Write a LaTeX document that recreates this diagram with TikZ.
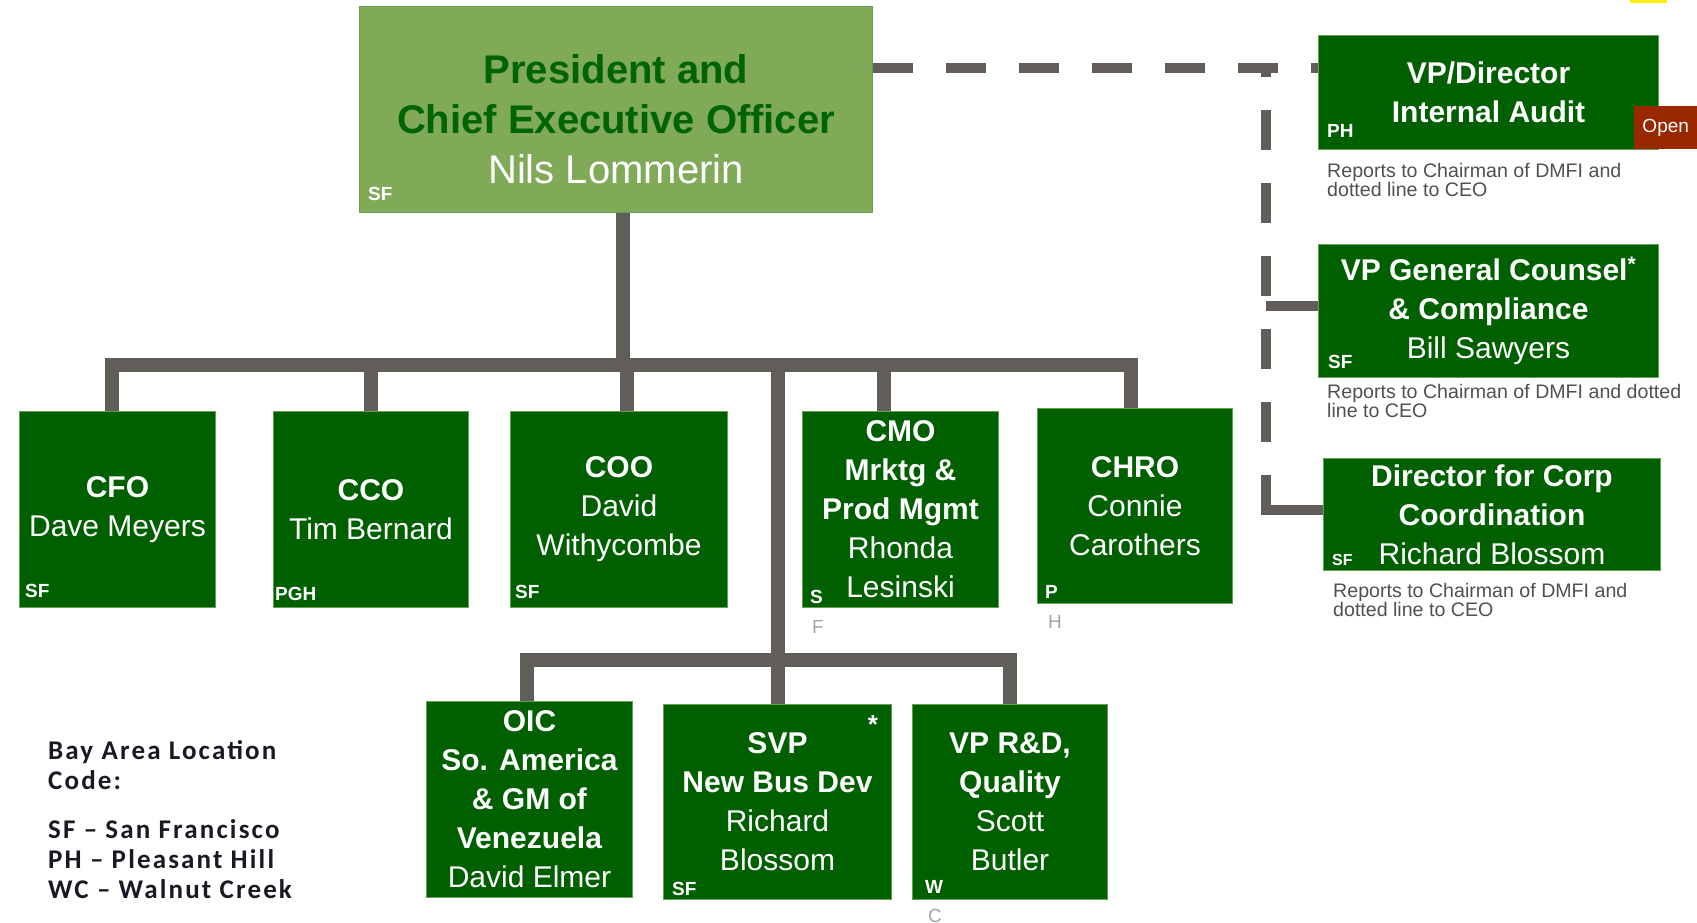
\documentclass[tikz,border=0pt]{standalone}
\usepackage{fontspec}
\setmainfont{Liberation Sans}
\newfontfamily\legendfont[LetterSpace=8]{Carlito}
\usepackage{xcolor}
\usepackage{tikz}
\usetikzlibrary{positioning}
\definecolor{boxgreen}{RGB}{0,96,0}
\definecolor{ceogreen}{RGB}{128,170,88}
\definecolor{edgegreen}{RGB}{100,160,80}
\definecolor{titlegreen}{RGB}{0,100,0}
\definecolor{linegray}{RGB}{97,93,89}
\definecolor{openred}{RGB}{153,40,0}
\definecolor{notegray}{RGB}{80,80,80}
\definecolor{ghostgray}{RGB}{165,165,165}
\definecolor{legendink}{RGB}{25,25,35}
\tikzstyle{ceobox} = [rectangle, anchor=north west, minimum width=513, minimum height=206, draw=edgegreen, line width=1, fill=ceogreen]
\tikzstyle{post} = [rectangle, anchor=north west, inner sep=0, draw=edgegreen, line width=1, fill=boxgreen, text=white, align=center, font=\fontsize{30}{39}\selectfont]
\tikzstyle{code} = [anchor=base west, inner sep=0, text=white, font=\bfseries\fontsize{19}{19}\selectfont]
\tikzstyle{ghost} = [anchor=base west, inner sep=0, text=ghostgray, font=\fontsize{19}{19}\selectfont]
\tikzstyle{note} = [anchor=north west, inner sep=0, align=left, text=notegray, font=\fontsize{19.6}{18}\selectfont]
\tikzstyle{conn} = [draw=linegray, line width=14, line join=miter]
\tikzstyle{dotconn} = [draw=linegray, line width=10, dash pattern=on 40pt off 33pt]
\tikzstyle{stub} = [draw=linegray, line width=10]

\begin{document}
\begin{tikzpicture}[x=1pt, y=-1pt]
	\useasboundingbox (0,0) rectangle (1697,923);
	
	\node (ceo) [ceobox] at (359,6) {};
	\node (ceotext) [align=center, inner sep=0, font=\fontsize{40}{50}\selectfont] at ([yshift=-10pt]ceo.center) {\textcolor{titlegreen}{\textbf{President and}}\\\textcolor{titlegreen}{\textbf{Chief Executive  Officer}}\\\textcolor{white}{Nils Lommerin}};
	\node (ceocode) [code] at (368,200) {SF};
	
	\node (cfo) [post, minimum width=196, minimum height=196] at (19,411) {\textbf{CFO}\\Dave Meyers};
	\node (cco) [post, minimum width=195, minimum height=196] at (273,411) {\textbf{CCO}\\Tim Bernard};
	\node (coo) [post, minimum width=217, minimum height=196] at (510,411) {\textbf{COO}\\David\\Withycombe};
	\node (cmo) [post, minimum width=196, minimum height=196] at (802,411) {\textbf{CMO}\\\textbf{Mrktg \&}\\\textbf{Prod Mgmt}\\Rhonda\\Lesinski};
	\node (chro) [post, minimum width=195, minimum height=195] at (1037,408) {\textbf{CHRO}\\Connie\\Carothers};
	
	\node (cfocode) [code] at (25,597) {SF};
	\node (ccocode) [code] at (275,600) {PGH};
	\node (coocode) [code] at (515,598) {SF};
	\node (cmocode) [code] at (810,603) {S};
	\node (cmoghost) [ghost] at (812,633) {F};
	\node (chrocode) [code] at (1045,598) {P};
	\node (chroghost) [ghost] at (1048,628) {H};
	
	\node (oic) [post, minimum width=206, minimum height=196] at (426,701) {\textbf{OIC}\\\textbf{So. America}\\\textbf{\& GM of}\\\textbf{Venezuela}\\David Elmer};
	\node (svp) [post, minimum width=228, minimum height=195] at (663,704) {\textbf{SVP}\\\textbf{New Bus Dev}\\Richard\\Blossom};
	\node (vprd) [post, minimum width=195, minimum height=195] at (912,704) {\textbf{VP R\&D,}\\\textbf{Quality}\\Scott\\Butler};
	
	\node (svpstar) [anchor=base, inner sep=0, text=white, font=\bfseries\fontsize{26}{26}\selectfont] at (873,733) {*};
	\node (svpcode) [code] at (672,895) {SF};
	\node (vprdcode) [code] at (925,893) {W};
	\node (vprdghost) [ghost] at (928,922) {C};
	
	\node (audit) [post, minimum width=340, minimum height=114] at (1318,35) {\textbf{VP/Director}\\\textbf{Internal Audit}};
	\node (open) [rectangle, anchor=north west, inner sep=0, minimum width=63, minimum height=43, fill=openred, text=white, font=\fontsize{19}{19}\selectfont] at (1634,106) {Open};
	\node (auditcode) [code] at (1327,138) {PH};
	\node (auditnote) [note] at (1327,163) {Reports to Chairman of DMFI and\\dotted line to CEO};
	
	\node (counsel) [post, minimum width=340, minimum height=133] at (1318,244) {\textbf{VP General Counsel\textsuperscript{*}}\\\textbf{\& Compliance}\\Bill Sawyers};
	\node (counselcode) [code] at (1328,368) {SF};
	\node (counselnote) [note] at (1327,384) {Reports to Chairman of DMFI and dotted\\line to CEO};
	
	\node (coord) [post, minimum width=337, minimum height=112] at (1323,458) {\textbf{Director for Corp}\\\textbf{Coordination}\\Richard Blossom};
	\node (coordcode) [code, font=\bfseries\fontsize{16}{16}\selectfont] at (1332,565) {SF};
	\node (coordnote) [note] at (1333,583) {Reports to Chairman of DMFI and\\dotted line to CEO};
	
	\node (legend) [anchor=north west, inner sep=0, align=left, text=legendink, font=\legendfont\bfseries\fontsize{27}{30}\selectfont] at (48,740) {Bay Area Location\\Code:\\[19pt]SF \textendash{} San Francisco\\PH \textendash{} Pleasant Hill\\WC \textendash{} Walnut Creek};
	
	\fill[yellow] (1630,0) rectangle (1667,3);
	
	\coordinate (hub) at (623,365);
	\draw [conn] (hub |- ceo.south) -- (hub);
	\draw [conn] ([xshift=-6pt]cfo.north) |- (hub) -| ([xshift=-4.5pt]chro.north);
	\draw [conn] (cco.north) -- (cco.north |- hub);
	\draw [conn] ([xshift=8pt]coo.north) -- ([xshift=8pt]coo.north |- hub);
	\draw [conn] ([xshift=-17pt]cmo.north) -- ([xshift=-17pt]cmo.north |- hub);
	\draw [conn] (svp.north) -- (svp.north |- hub);
	
	\coordinate (hub2) at (776,660);
	\draw [conn] ([xshift=-3pt]oic.north) |- (hub2) -| (vprd.north);
	
	\coordinate (dl) at (1266,68);
	\coordinate (dlend) at (1266,510);
	\coordinate (gcstub) at (1266,306);
	\draw [dotconn] (ceo.east |- dl) -- (audit.west |- dl);
	\draw [dotconn, dash phase=31pt] (dl) -- (dlend);
	\draw [stub] ([xshift=-5pt]dlend) -- (coord.west |- dlend);
	\draw [stub] (gcstub) -- (counsel.west |- gcstub);
	
\end{tikzpicture}
\end{document}
